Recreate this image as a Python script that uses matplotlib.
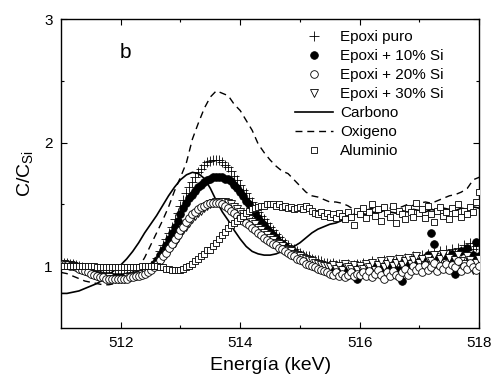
import numpy as np
import matplotlib
matplotlib.use('Agg')
import matplotlib.pyplot as plt

plt.rcParams['font.family'] = ['Liberation Sans', 'DejaVu Sans']
plt.rcParams['mathtext.fontset'] = 'custom'
plt.rcParams['mathtext.rm'] = 'Liberation Sans'

# energy grid of the marker series (keV)
energy = np.round(np.arange(511.0, 518.001, 0.05), 2)

epoxi_puro = [
    1.03, 1.03, 1.03, 1.02, 1.02, 1.01, 1.00, 0.99, 0.98, 0.97,
    0.96, 0.95, 0.95, 0.94, 0.94, 0.93, 0.93, 0.93, 0.93, 0.93,
    0.93, 0.93, 0.93, 0.94, 0.94, 0.95, 0.95, 0.96, 0.97, 0.98,
    1.00, 1.03, 1.07, 1.12, 1.17, 1.22, 1.27, 1.32, 1.38, 1.43,
    1.49, 1.54, 1.59, 1.64, 1.68, 1.72, 1.76, 1.79, 1.82, 1.84,
    1.85, 1.86, 1.86, 1.86, 1.84, 1.82, 1.80, 1.77, 1.73, 1.70,
    1.66, 1.62, 1.59, 1.55, 1.52, 1.48, 1.44, 1.41, 1.38, 1.35,
    1.32, 1.29, 1.26, 1.24, 1.21, 1.19, 1.17, 1.15, 1.14, 1.12,
    1.11, 1.09, 1.08, 1.08, 1.06, 1.05, 1.05, 1.04, 1.03, 1.03,
    1.02, 1.03, 1.01, 1.02, 1.00, 1.01, 1.02, 1.00, 1.01, 1.02,
    1.01, 1.03, 1.00, 1.02, 1.04, 1.01, 1.03, 1.02, 1.05, 1.03,
    1.04, 1.02, 1.06, 1.03, 1.05, 1.07, 1.04, 1.06, 1.08, 1.05,
    1.07, 1.09, 1.06, 1.10, 1.08, 1.11, 1.07, 1.12, 1.09, 1.13,
    1.10, 1.14, 1.11, 1.15, 1.12, 1.17, 1.13, 1.19, 1.14, 1.16,
    1.18]

epoxi_10 = [
    1.02, 1.02, 1.02, 1.01, 1.01, 1.00, 0.99, 0.98, 0.97, 0.96,
    0.95, 0.94, 0.93, 0.93, 0.92, 0.92, 0.92, 0.91, 0.91, 0.91,
    0.91, 0.91, 0.92, 0.92, 0.93, 0.93, 0.94, 0.95, 0.96, 0.97,
    0.99, 1.02, 1.05, 1.09, 1.13, 1.17, 1.22, 1.27, 1.32, 1.37,
    1.42, 1.47, 1.51, 1.55, 1.58, 1.61, 1.64, 1.66, 1.68, 1.70,
    1.71, 1.72, 1.72, 1.72, 1.72, 1.71, 1.71, 1.69, 1.66, 1.63,
    1.60, 1.57, 1.53, 1.50, 1.46, 1.43, 1.39, 1.36, 1.33, 1.30,
    1.28, 1.25, 1.23, 1.20, 1.18, 1.16, 1.14, 1.12, 1.11, 1.09,
    1.08, 1.06, 1.05, 1.03, 1.02, 1.01, 1.00, 0.99, 0.98, 0.97,
    0.96, 0.98, 0.95, 0.97, 0.94, 0.96, 0.93, 0.97, 0.95, 0.90,
    0.96, 0.94, 0.98, 0.95, 0.97, 0.99, 0.95, 0.98, 0.96, 1.00,
    0.97, 0.99, 0.95, 0.97, 0.88, 0.98, 1.01, 0.97, 1.00, 1.03,
    0.99, 1.04, 1.01, 1.09, 1.27, 1.18, 1.05, 1.00, 1.08, 1.02,
    1.06, 1.10, 0.94, 1.04, 1.12, 1.01, 1.15, 1.06, 1.09, 1.20,
    1.08]

epoxi_20 = [
    1.01, 1.01, 1.01, 1.00, 1.00, 0.99, 0.98, 0.97, 0.96, 0.95,
    0.94, 0.93, 0.92, 0.91, 0.91, 0.90, 0.90, 0.90, 0.90, 0.90,
    0.90, 0.90, 0.90, 0.91, 0.91, 0.92, 0.92, 0.93, 0.94, 0.95,
    0.97, 0.99, 1.02, 1.05, 1.08, 1.11, 1.15, 1.18, 1.22, 1.25,
    1.29, 1.32, 1.36, 1.39, 1.42, 1.44, 1.46, 1.48, 1.49, 1.50,
    1.51, 1.51, 1.51, 1.51, 1.50, 1.49, 1.47, 1.45, 1.43, 1.41,
    1.39, 1.37, 1.35, 1.33, 1.31, 1.29, 1.27, 1.25, 1.23, 1.21,
    1.20, 1.18, 1.17, 1.15, 1.14, 1.12, 1.11, 1.09, 1.08, 1.06,
    1.05, 1.04, 1.02, 1.01, 1.00, 0.99, 0.98, 0.97, 0.96, 0.95,
    0.94, 0.93, 0.95, 0.92, 0.94, 0.91, 0.93, 0.95, 0.92, 0.94,
    0.93, 0.95, 0.92, 0.96, 0.91, 0.94, 0.97, 0.93, 0.90, 0.95,
    0.92, 0.96, 0.93, 0.91, 0.95, 0.98, 0.93, 0.96, 1.00, 0.97,
    0.99, 0.95, 1.01, 0.97, 0.99, 1.03, 0.96, 1.00, 0.98, 1.02,
    0.97, 1.01, 0.99, 1.04, 0.96, 1.00, 0.98, 1.03, 0.99, 0.97,
    1.00]

epoxi_30 = [
    1.02, 1.02, 1.01, 1.01, 1.00, 0.99, 0.98, 0.97, 0.96, 0.95,
    0.94, 0.93, 0.92, 0.92, 0.91, 0.91, 0.91, 0.90, 0.90, 0.90,
    0.90, 0.90, 0.91, 0.91, 0.92, 0.92, 0.93, 0.94, 0.95, 0.96,
    0.97, 0.99, 1.01, 1.04, 1.07, 1.10, 1.13, 1.16, 1.19, 1.23,
    1.26, 1.29, 1.32, 1.35, 1.38, 1.41, 1.43, 1.45, 1.47, 1.49,
    1.50, 1.51, 1.52, 1.52, 1.52, 1.52, 1.51, 1.50, 1.48, 1.46,
    1.44, 1.42, 1.40, 1.38, 1.36, 1.34, 1.31, 1.29, 1.27, 1.25,
    1.23, 1.21, 1.19, 1.18, 1.16, 1.14, 1.13, 1.12, 1.10, 1.09,
    1.08, 1.07, 1.06, 1.05, 1.04, 1.03, 1.02, 1.01, 1.00, 1.00,
    0.99, 1.01, 0.98, 1.00, 0.97, 1.02, 0.99, 0.98, 1.01, 0.97,
    1.00, 0.98, 1.02, 0.99, 1.03, 0.97, 1.01, 1.04, 0.99, 1.02,
    1.05, 1.00, 1.03, 1.06, 1.01, 1.04, 1.07, 1.02, 1.05, 1.08,
    1.03, 1.06, 1.01, 1.07, 1.04, 1.09, 1.02, 1.06, 1.10, 1.03,
    1.07, 1.01, 1.05, 1.09, 1.04, 1.02, 1.08, 1.05, 0.97, 1.03,
    1.06]

aluminio = [
    1.00, 1.00, 1.00, 1.00, 1.00, 1.00, 1.00, 1.00, 1.00, 1.00,
    1.00, 1.00, 0.99, 0.99, 0.99, 0.99, 0.99, 0.99, 0.99, 0.99,
    0.99, 0.99, 0.99, 0.99, 0.99, 0.99, 0.99, 1.00, 1.00, 1.00,
    1.00, 1.00, 1.00, 0.99, 0.99, 0.98, 0.98, 0.97, 0.97, 0.97,
    0.97, 0.98, 0.99, 1.00, 1.02, 1.04, 1.06, 1.08, 1.10, 1.13,
    1.13, 1.16, 1.19, 1.22, 1.25, 1.28, 1.31, 1.33, 1.35, 1.37,
    1.39, 1.41, 1.43, 1.45, 1.46, 1.47, 1.48, 1.49, 1.49, 1.50,
    1.50, 1.50, 1.49, 1.50, 1.48, 1.49, 1.47, 1.48, 1.46, 1.47,
    1.48, 1.46, 1.49, 1.47, 1.45, 1.43, 1.42, 1.44, 1.41, 1.43,
    1.40, 1.42, 1.39, 1.43, 1.41, 1.38, 1.44, 1.40, 1.33, 1.45,
    1.42, 1.47, 1.39, 1.44, 1.50, 1.41, 1.46, 1.37, 1.48, 1.43,
    1.40, 1.49, 1.35, 1.45, 1.42, 1.38, 1.47, 1.44, 1.40, 1.51,
    1.43, 1.46, 1.39, 1.49, 1.42, 1.36, 1.45, 1.48, 1.41, 1.44,
    1.38, 1.47, 1.43, 1.50, 1.40, 1.45, 1.42, 1.48, 1.44, 1.52,
    1.60]

# line series on a coarser grid
energy_lines = np.round(np.arange(511.0, 518.001, 0.1), 1)

carbono = [
    0.78, 0.78, 0.79, 0.80, 0.82, 0.84, 0.86, 0.89, 0.93, 0.97,
    1.01, 1.06, 1.12, 1.19, 1.27, 1.34, 1.41, 1.49, 1.57, 1.64,
    1.70, 1.74, 1.76, 1.75, 1.71, 1.63, 1.53, 1.44, 1.37, 1.29,
    1.22, 1.16, 1.12, 1.10, 1.09, 1.09, 1.10, 1.12, 1.14, 1.16,
    1.19, 1.23, 1.27, 1.30, 1.32, 1.34, 1.35, 1.37, 1.39, 1.42,
    1.43, 1.42, 1.44, 1.43, 1.45, 1.44, 1.43, 1.45, 1.44, 1.46,
    1.45, 1.44, 1.46, 1.45, 1.47, 1.46, 1.45, 1.47, 1.46, 1.48,
    1.47]

oxigeno = [
    0.95, 0.94, 0.92, 0.90, 0.88, 0.87, 0.86, 0.85, 0.85, 0.86,
    0.87, 0.89, 0.93, 0.99, 1.07, 1.17, 1.27, 1.37, 1.48, 1.61,
    1.72, 1.84, 2.03, 2.16, 2.28, 2.37, 2.42, 2.40, 2.38, 2.31,
    2.26, 2.18, 2.10, 1.99, 1.92, 1.86, 1.81, 1.77, 1.75, 1.70,
    1.65, 1.60, 1.57, 1.56, 1.54, 1.52, 1.52, 1.51, 1.49, 1.46,
    1.44, 1.45, 1.47, 1.46, 1.48, 1.47, 1.49, 1.48, 1.50, 1.49,
    1.51, 1.52, 1.51, 1.53, 1.55, 1.57, 1.58, 1.60, 1.63, 1.70,
    1.72]

fig = plt.figure(figsize=(4.92, 3.83), dpi=100)
ax = fig.add_axes([0.124, 0.1436, 0.850, 0.8064])

ax.plot(energy_lines, oxigeno, color='black', lw=1.0, dashes=(5, 3.5), label='Oxigeno', zorder=2)
ax.plot(energy_lines, carbono, color='black', lw=1.2, label='Carbono', zorder=2)

mk = dict(ls='none', mec='black', mew=0.6)
ax.plot(energy, epoxi_puro, marker='+', ms=7, color='black', label='Epoxi puro', zorder=3, **mk)
ax.plot(energy, epoxi_10, marker='o', ms=5.5, mfc='black', label='Epoxi + 10% Si', zorder=3, **mk)
ax.plot(energy, epoxi_30, marker='v', ms=6, mfc='white', label='Epoxi + 30% Si', zorder=3, **mk)
ax.plot(energy, epoxi_20, marker='o', ms=5.5, mfc='white', label='Epoxi + 20% Si', zorder=3, **mk)
ax.plot(energy, aluminio, marker='s', ms=5, mfc='white', label='Aluminio', zorder=4, **mk)

ax.set_xlim(511, 518)
ax.set_ylim(0.5, 3)
ax.set_xticks([512, 514, 516, 518])
ax.set_xticks([513, 515, 517], minor=True)
ax.set_yticks([1, 2, 3])
ax.set_yticks([1.5, 2.5], minor=True)
ax.tick_params(which='both', direction='in', top=True, right=True, width=0.8, labelsize=11)
ax.tick_params(which='major', length=4.5, pad=6)
ax.tick_params(which='minor', length=2.5)
for s in ax.spines.values():
    s.set_linewidth(1.0)

ax.set_xlabel('Energía (keV)', fontsize=14, labelpad=5)
ax.set_ylabel('C/C$_\\mathregular{Si}$', fontsize=14, labelpad=6)
ax.text(0.14, 0.875, 'b', transform=ax.transAxes, fontsize=15)

# legend in the order of the reference
h, l = ax.get_legend_handles_labels()
order = ['Epoxi puro', 'Epoxi + 10% Si', 'Epoxi + 20% Si', 'Epoxi + 30% Si',
         'Carbono', 'Oxigeno', 'Aluminio']
hd = dict(zip(l, h))
ax.legend([hd[k] for k in order], order, loc='upper left', bbox_to_anchor=(0.56, 0.965),
          frameon=False, fontsize=11, numpoints=1, handlelength=2.5, handletextpad=0.45,
          labelspacing=0.33, borderpad=0, borderaxespad=0)

fig.savefig('out.png', dpi=100)
